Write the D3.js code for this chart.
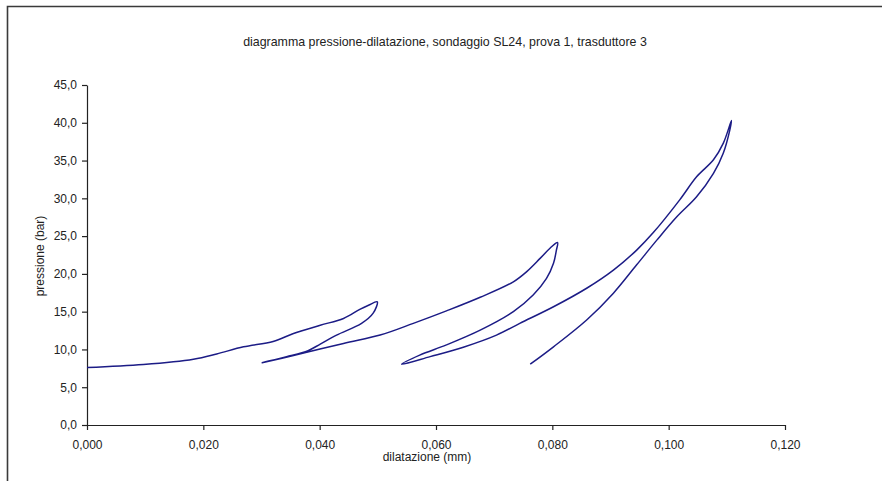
<!DOCTYPE html>
<html>
<head>
<meta charset="utf-8">
<script src="https://cdn.jsdelivr.net/npm/d3@7/dist/d3.min.js"></script>
<style>
  html, body { margin: 0; padding: 0; background: #fff; }
  svg { display: block; }
  text { font-family: "Liberation Sans", Arial, sans-serif; }
</style>
</head>
<body>
<svg id="chart" width="882" height="481"></svg>
<script>
// Pressure–dilatation test readings, in acquisition order (load / unload cycles)
const dilatazione = [
  0.0000, 0.0097, 0.0183, 0.0223, 0.0269, 0.0320, 0.0355, 0.0401, 0.0441, 0.0469, 0.0484, 0.0499,
  0.0492, 0.0472, 0.0429, 0.0401, 0.0380, 0.0343, 0.0301,
  0.0355, 0.0441, 0.0504, 0.0561, 0.0618, 0.0676, 0.0733, 0.0756, 0.0779, 0.0796, 0.0809,
  0.0807, 0.0802, 0.0790, 0.0767, 0.0733, 0.0676, 0.0618, 0.0572, 0.0541,
  0.0590, 0.0647, 0.0704, 0.0744, 0.0802, 0.0859, 0.0905, 0.0945, 0.0974, 0.1019, 0.1048, 0.1077, 0.1094, 0.1108,
  0.1105, 0.1094, 0.1077, 0.1048, 0.1014, 0.0980, 0.0945, 0.0905, 0.0859, 0.0802, 0.0762
];
const pressione = [
  7.60, 8.00, 8.70, 9.40, 10.35, 11.05, 12.10, 13.20, 14.10, 15.30, 15.85, 16.30,
  14.80, 13.45, 11.90, 10.70, 9.85, 9.05, 8.25,
  9.20, 10.80, 11.90, 13.45, 15.10, 16.90, 18.95, 20.30, 22.05, 23.40, 24.15,
  23.15, 21.40, 19.40, 17.20, 15.00, 12.55, 10.60, 9.25, 8.05,
  9.05, 10.30, 11.90, 13.45, 15.65, 18.10, 20.50, 23.15, 25.50, 29.80, 32.85, 35.10, 37.30, 40.30,
  39.00, 36.00, 33.30, 30.20, 27.55, 24.50, 21.20, 17.45, 13.90, 10.35, 8.05
];

const xTicks = [0, 0.02, 0.04, 0.06, 0.08, 0.10, 0.12];
const yTicks = [0, 5, 10, 15, 20, 25, 30, 35, 40, 45];

const titolo = "diagramma pressione-dilatazione, sondaggio SL24, prova 1, trasduttore 3";
const etichettaX = "dilatazione (mm)";
const etichettaY = "pressione (bar)";

const svg = d3.select("#chart");

// outer chart frame (top and left edges)
svg.append("path")
  .attr("d", "M7.5,481V6.5H882")
  .attr("fill", "none")
  .attr("stroke", "#3a3a3a")
  .attr("stroke-width", 1.6);

const x = d3.scaleLinear().domain([0, 0.12]).range([87, 785]);
const y = d3.scaleLinear().domain([0, 45]).range([425, 85]);

const comma = f => v => f(v).replace(".", ",");

const xAxis = d3.axisBottom(x)
  .tickValues(xTicks)
  .tickFormat(comma(d3.format(".3f")))
  .tickSize(5).tickSizeOuter(0).tickPadding(10);
const yAxis = d3.axisLeft(y)
  .tickValues(yTicks)
  .tickFormat(comma(d3.format(".1f")))
  .tickSize(5).tickSizeOuter(0).tickPadding(5);

function styleAxis(g) {
  g.select(".domain").attr("stroke", "#222").attr("stroke-width", 1.2);
  g.selectAll(".tick line").attr("stroke", "#222").attr("stroke-width", 1.2);
  g.selectAll(".tick text")
    .attr("fill", "#222")
    .style("font-size", "12px")
    .style("font-family", "'Liberation Sans', Arial, sans-serif");
}

svg.append("g").attr("transform", `translate(0,${y(0)})`).call(xAxis).call(styleAxis);
svg.append("g").attr("transform", `translate(${x(0)},0)`).call(yAxis).call(styleAxis);

// the measured curve
const pts = dilatazione.map((d, i) => [d, pressione[i]]);
const line = d3.line()
  .x(d => x(d[0]))
  .y(d => y(d[1]))
  .curve(d3.curveCatmullRom.alpha(0.5));

svg.append("path")
  .datum(pts)
  .attr("d", line)
  .attr("fill", "none")
  .attr("stroke", "#1c1c86")
  .attr("stroke-width", 1.5)
  .attr("stroke-linejoin", "round");

// title and axis titles
svg.append("text")
  .attr("x", 445).attr("y", 46)
  .attr("text-anchor", "middle")
  .attr("fill", "#222")
  .style("font-size", "12.4px")
  .text(titolo);

svg.append("text")
  .attr("x", 427).attr("y", 461)
  .attr("text-anchor", "middle")
  .attr("fill", "#222")
  .style("font-size", "12px")
  .text(etichettaX);

svg.append("text")
  .attr("transform", "translate(44,256) rotate(-90)")
  .attr("text-anchor", "middle")
  .attr("fill", "#222")
  .style("font-size", "12px")
  .text(etichettaY);
</script>
</body>
</html>
